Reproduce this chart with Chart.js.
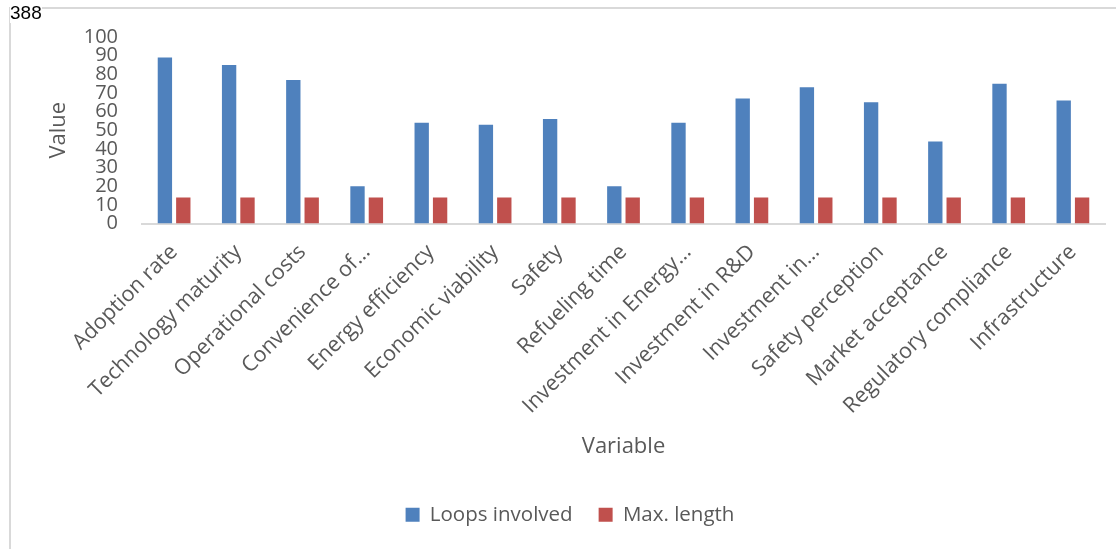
<!DOCTYPE html>
<html lang="en">
<head>
    <meta charset="UTF-8">
    <title>Variables chart</title>
    <script src="https://cdn.jsdelivr.net/npm/chart.js"></script>
    <style>
        body {
            margin: 0;
            background: #ffffff;
            font-family: 'Open Sans', sans-serif;
        }
        .frame {
            position: absolute;
            left: 9px;
            top: 7px;
            width: 1107px;
            height: 542px;
            border-left: 2px solid #d9d9d9;
            border-top: 2px solid #d9d9d9;
            box-sizing: border-box;
        }
        .page-num {
            position: absolute;
            left: 10px;
            top: 3px;
            font-family: 'Liberation Sans', Arial, sans-serif;
            font-size: 19px;
            color: #000;
            background: #fff;
            line-height: 20px;
            z-index: 2;
        }
        .chart-box {
            position: absolute;
            left: 0;
            top: 0;
            width: 1116px;
            height: 549px;
        }
    </style>
</head>
<body>
    <div class="frame"></div>
    <div class="page-num">388</div>
    <div class="chart-box">
        <canvas id="varChart"></canvas>
    </div>

    <script>
        const variables = [
            "Adoption rate", "Technology maturity", "Operational costs", "Convenience of…",
            "Energy efficiency", "Economic viability", "Safety", "Refueling time",
            "Investment in Energy…", "Investment in R&D", "Investment in…", "Safety perception",
            "Market acceptance", "Regulatory compliance", "Infrastructure"
        ];
        const loopsInvolved = [89, 85, 77, 20, 54, 53, 56, 20, 54, 67, 73, 65, 44, 75, 66];
        const maxLength = [14, 14, 14, 14, 14, 14, 14, 14, 14, 14, 14, 14, 14, 14, 14];
        const valueTicks = [0, 10, 20, 30, 40, 50, 60, 70, 80, 90, 100];

        const textColor = "#595959";

        new Chart(document.getElementById("varChart"), {
            type: "bar",
            data: {
                labels: variables,
                datasets: [
                    { label: "Loops involved", data: loopsInvolved, backgroundColor: "#4f81bd" },
                    { label: "Max. length", data: maxLength, backgroundColor: "#c0504d" }
                ]
            },
            options: {
                responsive: true,
                maintainAspectRatio: false,
                animation: false,
                datasets: {
                    bar: { categoryPercentage: 0.573, barPercentage: 0.78 }
                },
                layout: {
                    padding: { left: 35, right: 11, top: 37, bottom: 14 }
                },
                plugins: {
                    tooltip: { enabled: false },
                    legend: {
                        position: "bottom",
                        labels: {
                            color: textColor,
                            font: { family: "Open Sans", size: 20.5 },
                            boxWidth: 14,
                            boxHeight: 14,
                            padding: 26
                        }
                    }
                },
                scales: {
                    x: {
                        grid: { display: false },
                        border: { color: "#d9d9d9", width: 2 },
                        ticks: {
                            color: textColor,
                            font: { family: "Open Sans", size: 21.5 },
                            maxRotation: 45,
                            minRotation: 45,
                            padding: 8
                        },
                        title: {
                            display: true,
                            text: "Variable",
                            color: textColor,
                            font: { family: "Open Sans", size: 22 },
                            padding: { top: 0, bottom: 19 }
                        },
                        afterFit: function (scale) { scale.height = 255; }
                    },
                    y: {
                        min: 0,
                        max: 100,
                        grid: { display: false, drawTicks: false },
                        border: { display: false },
                        afterBuildTicks: function (scale) {
                            scale.ticks = valueTicks.map(v => ({ value: v }));
                        },
                        ticks: {
                            color: textColor,
                            font: { family: "Open Sans", size: 20 },
                            padding: 24,
                            autoSkip: false
                        },
                        title: {
                            display: true,
                            text: "Value",
                            color: textColor,
                            font: { family: "Open Sans", size: 22 },
                            padding: { top: 11 }
                        },
                        afterFit: function (scale) { scale.width = 107; }
                    }
                }
            }
        });
    </script>
</body>
</html>
